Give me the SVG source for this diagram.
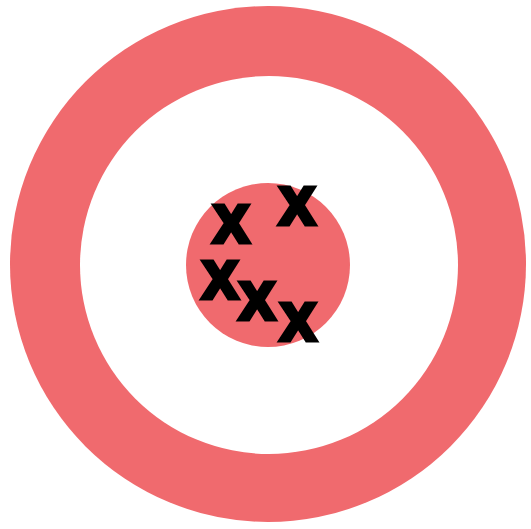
<svg xmlns="http://www.w3.org/2000/svg" width="531" height="529" viewBox="0 0 531 529">
<style>
.ring{fill:#F06A6E}
.x{font-family:"Liberation Sans",Arial,sans-serif;font-weight:700;font-size:52px;fill:#000;stroke:#000;stroke-width:5;stroke-linejoin:miter;text-anchor:middle}
</style>
<rect width="531" height="529" fill="#fff"/>
<g id="target">
<circle class="ring" cx="268" cy="264" r="258"/>
<circle cx="269" cy="265" r="189" fill="#fff"/>
<circle class="ring" cx="268" cy="265" r="82"/>
</g>
<g id="marks">
<text class="x" x="231" y="242">X</text>
<text class="x" x="297" y="224">X</text>
<text class="x" x="220" y="298">X</text>
<text class="x" x="257" y="319">X</text>
<text class="x" x="298" y="340">X</text>
</g>
</svg>
